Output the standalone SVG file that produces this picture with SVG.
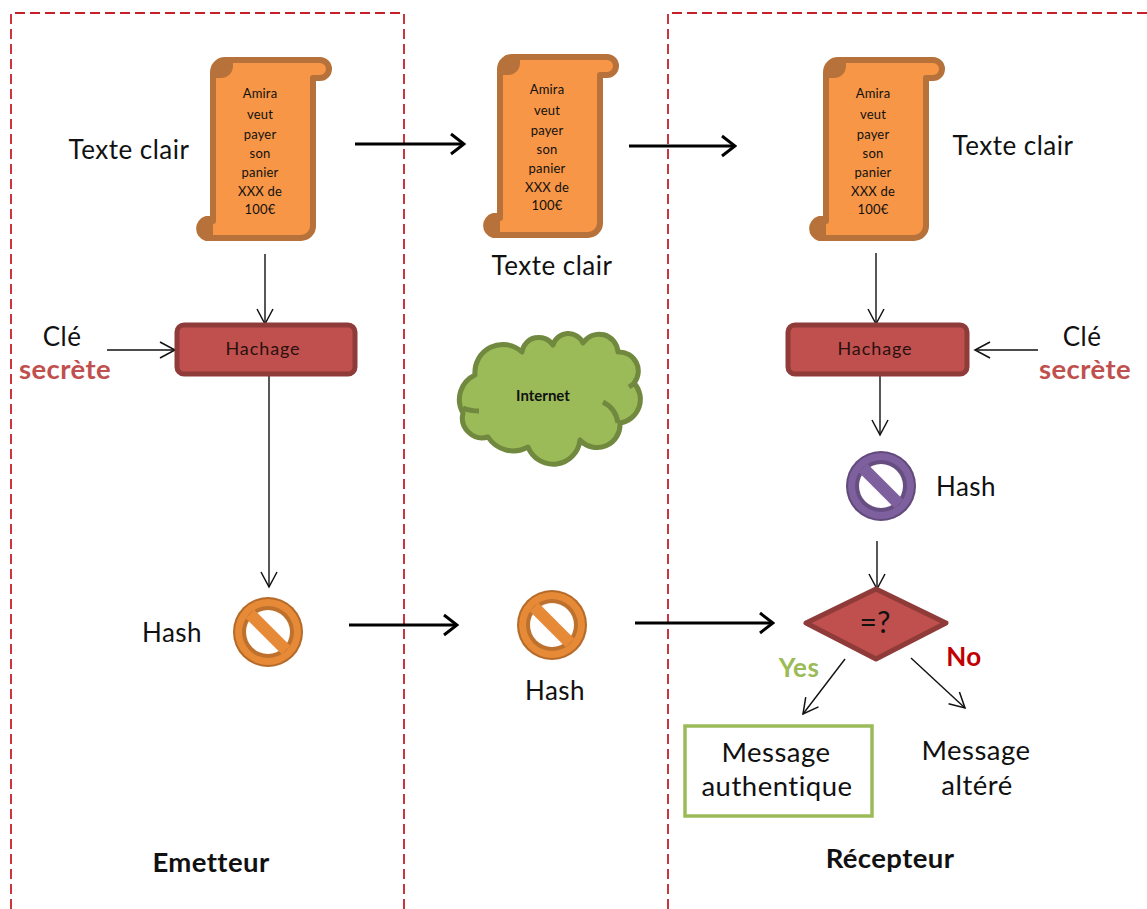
<svg xmlns="http://www.w3.org/2000/svg" width="1147" height="909" viewBox="0 0 1147 909">
<style>
text{font-family:"Lato","Open Sans","Liberation Sans",sans-serif;fill:#111;font-variant-ligatures:none}
.l,.m,.b,.r,.s,.h{transform:translateY(1px)}
.l{font-size:26px;text-anchor:middle;letter-spacing:.5px}
.m{font-size:27.5px;text-anchor:middle;letter-spacing:.5px}
.b{font-size:26px;font-weight:700;text-anchor:middle;letter-spacing:.4px}
.r{font-size:27.5px;font-weight:700;text-anchor:middle;letter-spacing:.4px}
.s{font-size:13px;text-anchor:middle;letter-spacing:.2px}
.h{font-size:18px;text-anchor:middle;fill:#2a1010;letter-spacing:.9px}
.zone{fill:none;stroke:#c8202a;stroke-width:1.8;stroke-dasharray:10 5}
.scroll{fill:#f79646;stroke:#b6723a;stroke-width:6;stroke-linejoin:round}
.dark{fill:#b6723a}
.thin{fill:none;stroke:#111;stroke-width:1.4}
.thick{fill:none;stroke:#000;stroke-width:3}
.box{fill:#c0504d;stroke:#8f3b39;stroke-width:5}
</style>
<defs>
<g id="scrollShape">
<path class="scroll" d="M213 221V72a12 12 0 0 1 12-12H320a9 9 0 0 1 0 18H313V226a12 12 0 0 1-12 12H206a10 10 0 0 1 0-19h7Z"/>
<path class="dark" d="M213 78V72a12 12 0 0 1 12-12h8v6a12 12 0 0 1-12 12Z"/>
<path class="dark" d="M213 237H206a10 10 0 0 1 0-19h7Z"/>
</g>
<g id="noSign">
<circle r="35" fill="currentColor"/>
<circle r="35" fill="#000" opacity=".22"/>
<circle r="33" fill="currentColor"/>
<circle r="26" fill="#000" opacity=".18"/>
<circle r="22" fill="#fff"/>
<path d="M-18-18 18 18" stroke="currentColor" stroke-width="12"/>
</g>
<marker id="open" viewBox="0 0 20 20" refX="18" refY="10" markerWidth="20" markerHeight="20" markerUnits="userSpaceOnUse" orient="auto">
<path d="M3 2 18 10 3 18" fill="none" stroke="#111" stroke-width="1.5"/>
</marker>
<marker id="openBig" viewBox="0 0 24 24" refX="22" refY="12" markerWidth="24" markerHeight="24" markerUnits="userSpaceOnUse" orient="auto">
<path d="M9 2 22 12 9 22" fill="none" stroke="#000" stroke-width="3"/>
</marker>
</defs>
<rect width="1147" height="909" fill="#fff"/>
<g id="zones">
<path class="zone" d="M11 909V13H404V909"/>
<path class="zone" d="M1147 13H668V909"/>
</g>
<g id="connectors">
<path class="thick" marker-end="url(#openBig)" d="M355 144H464"/>
<path class="thick" marker-end="url(#openBig)" d="M629 146H735"/>
<path class="thick" marker-end="url(#openBig)" d="M349 625H457"/>
<path class="thick" marker-end="url(#openBig)" d="M635 623H773"/>
<path class="thin" marker-end="url(#open)" d="M265 254V324"/>
<path class="thin" marker-end="url(#open)" d="M107 350H175"/>
<path class="thin" marker-end="url(#open)" d="M269 375V587"/>
<path class="thin" marker-end="url(#open)" d="M876 253V324"/>
<path class="thin" marker-end="url(#open)" d="M1038 350H975"/>
<path class="thin" marker-end="url(#open)" d="M880 376V435"/>
<path class="thin" marker-end="url(#open)" d="M877 541V589"/>
<path class="thin" marker-end="url(#open)" d="M845 659 803 714"/>
<path class="thin" marker-end="url(#open)" d="M911 658 965 708"/>
</g>
<g id="scroll-emetteur">
<use href="#scrollShape"/>
<text class="s" x="260" y="97">Amira</text><text class="s" x="260" y="118">veut</text><text class="s" x="260" y="138">payer</text><text class="s" x="260" y="157">son</text><text class="s" x="260" y="176">panier</text><text class="s" x="260" y="195">XXX de</text><text class="s" x="260" y="213">100€</text>
</g>
<g id="scroll-internet">
<use href="#scrollShape" transform="translate(287 -3)"/>
<text class="s" x="547" y="93">Amira</text><text class="s" x="547" y="114">veut</text><text class="s" x="547" y="134">payer</text><text class="s" x="547" y="153">son</text><text class="s" x="547" y="172">panier</text><text class="s" x="547" y="191">XXX de</text><text class="s" x="547" y="209">100€</text>
</g>
<g id="scroll-recepteur">
<use href="#scrollShape" transform="translate(613 0)"/>
<text class="s" x="873" y="97">Amira</text><text class="s" x="873" y="118">veut</text><text class="s" x="873" y="138">payer</text><text class="s" x="873" y="157">son</text><text class="s" x="873" y="176">panier</text><text class="s" x="873" y="195">XXX de</text><text class="s" x="873" y="213">100€</text>
</g>
<g id="labels-texte">
<text class="l" x="129" y="158">Texte clair</text>
<text class="l" x="552" y="274">Texte clair</text>
<text class="l" x="1013" y="154">Texte clair</text>
</g>
<g id="hachage-emetteur">
<rect class="box" x="177" y="325" width="178" height="49" rx="7"/>
<text class="h" x="263" y="354">Hachage</text>
</g>
<g id="hachage-recepteur">
<rect class="box" x="788" y="325" width="179" height="49" rx="7"/>
<text class="h" x="875" y="354">Hachage</text>
</g>
<g id="cle-emetteur">
<text class="l" x="62" y="345">Clé</text>
<text class="r" x="65" y="378" style="fill:#c0504d">secrète</text>
</g>
<g id="cle-recepteur">
<text class="l" x="1082" y="345">Clé</text>
<text class="r" x="1085" y="378" style="fill:#c0504d">secrète</text>
</g>
<g id="internet">
<path fill="#9bbb59" stroke="#71893f" stroke-width="5" stroke-linejoin="round" d="M475 375A28 28 0 0 1 522 352A17 17 0 0 1 553 345A16 16 0 0 1 583 343A19 19 0 0 1 618 352A19 19 0 0 1 634 383A24 24 0 0 1 620 423A23 23 0 0 1 580 440A27 27 0 0 1 528 447A30 30 0 0 1 488 437A20 20 0 0 1 463 413A27 27 0 0 1 475 375Z"/>
<path fill="none" stroke="#71893f" stroke-width="5" d="M603 402A28 28 0 0 1 618 423M629 387Q632 385 635 383M463 408Q470 411 479 411"/>
<text x="543" y="401" text-anchor="middle" font-size="15" font-weight="700">Internet</text>
</g>
<g id="hash-emetteur" color="#e78a37">
<use href="#noSign" transform="translate(268 632)"/>
<text class="l" x="172" y="641">Hash</text>
</g>
<g id="hash-internet" color="#e78a37">
<use href="#noSign" transform="translate(552 625)"/>
<text class="l" x="555" y="699">Hash</text>
</g>
<g id="hash-recepteur" color="#7e609e">
<use href="#noSign" transform="translate(881 486)"/>
<text class="l" x="966" y="495">Hash</text>
</g>
<g id="decision">
<path fill="#c0504d" stroke="#8f3b39" stroke-width="5" stroke-linejoin="round" d="M876 589 946 623 876 659 806 623Z"/>
<text x="875" y="633" text-anchor="middle" font-size="30">=?</text>
<text class="b" x="799" y="676" style="fill:#9bbb59">Yes</text>
<text class="b" x="964" y="665" style="fill:#c00000">No</text>
</g>
<g id="message-authentique">
<rect x="685" y="726" width="187" height="90" fill="#fff" stroke="#9bbb59" stroke-width="3.5"/>
<text class="m" x="776" y="761">Message</text>
<text class="m" x="777" y="795">authentique</text>
</g>
<g id="message-altere">
<text class="m" x="976" y="759">Message</text>
<text class="m" x="977" y="794">altéré</text>
</g>
<g id="roles">
<text class="r" x="211" y="871">Emetteur</text>
<text class="r" x="890" y="867">Récepteur</text>
</g>
</svg>
